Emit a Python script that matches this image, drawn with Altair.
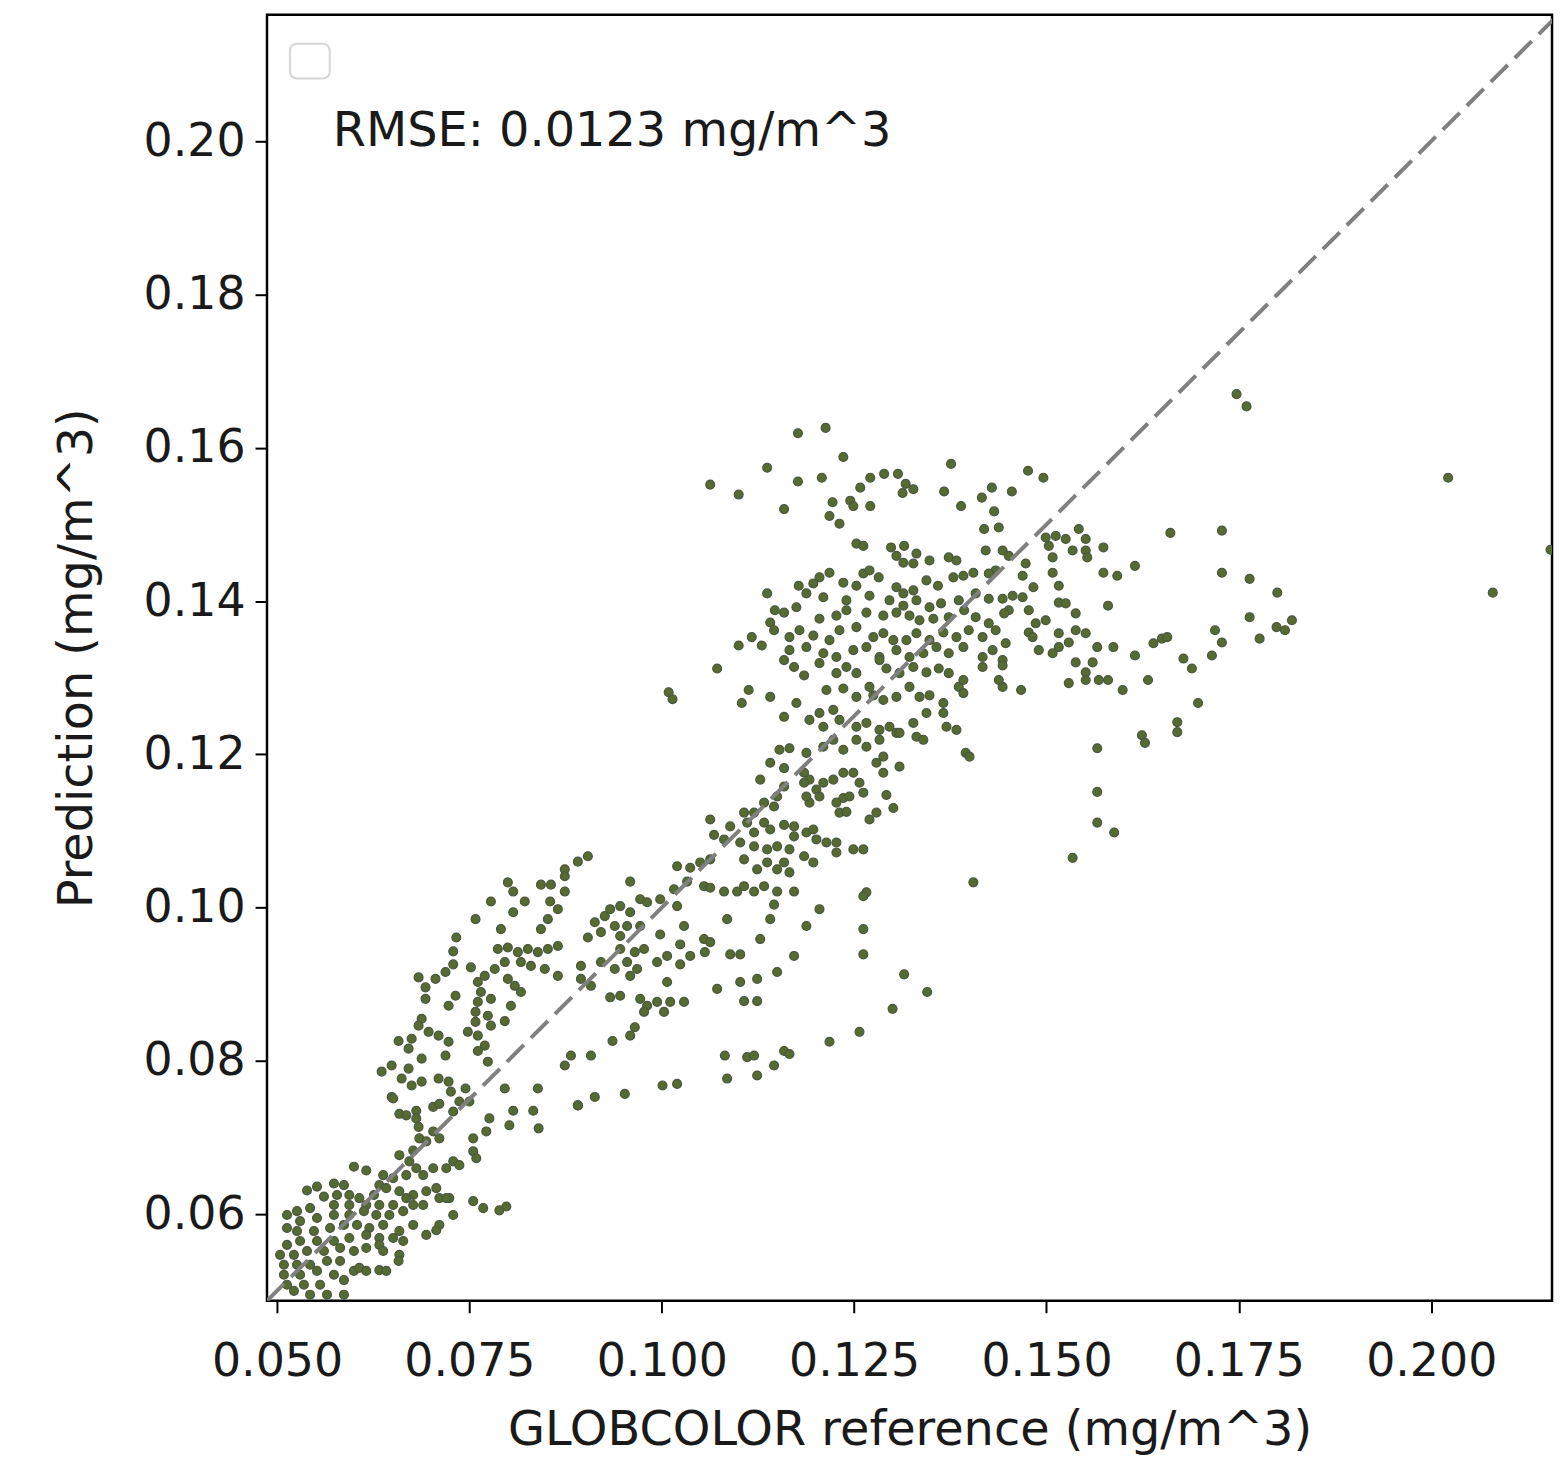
import altair as alt
import pandas as pd

# ---- values (mg/m^3): (GLOBCOLOR reference, prediction) ----
outliers = [(0.1747,0.1670),(0.1760,0.1654),(0.2022,0.1561),(0.2080,0.1411),(0.2155,0.1467)]

upper = [(0.1177,0.1619),(0.1213,0.1626),(0.1236,0.1588),(0.1137,0.1574),(0.1177,0.1556),(0.1208,0.1561),
         (0.1100,0.1539),(0.1063,0.1552),(0.1159,0.1520),(0.1271,0.1561),(0.1289,0.1566),(0.1307,0.1566),
         (0.1258,0.1548),(0.1317,0.1553),(0.1327,0.1546),(0.1313,0.1541),(0.1376,0.1579),(0.1367,0.1543),
         (0.1389,0.1524),(0.1416,0.1535),(0.1429,0.1548),(0.1455,0.1543),(0.1432,0.1517),(0.1419,0.1494),
         (0.1438,0.1496),(0.1222,0.1529),(0.1245,0.1531),(0.1249,0.1524),(0.1271,0.1524),(0.1218,0.1511),
         (0.1231,0.1501),(0.1476,0.1570),(0.1496,0.1561)]

core = [(0.1253,0.1475),(0.1262,0.1472),(0.1298,0.1470),(0.1315,0.1472),(0.1331,0.1462),(0.1305,0.1459),
        (0.1314,0.1450),(0.1327,0.1449),(0.1348,0.1453),(0.1373,0.1457),(0.1383,0.1453),(0.1421,0.1466),
        (0.1443,0.1466),(0.1451,0.1459),
        (0.1218,0.1437),(0.1205,0.1431),(0.1197,0.1423),(0.1178,0.1420),(0.1236,0.1424),(0.1262,0.1436),
        (0.1270,0.1440),(0.1282,0.1431),(0.1253,0.1420),(0.1305,0.1418),(0.1314,0.1410),(0.1327,0.1414),
        (0.1344,0.1427),(0.1359,0.1420),(0.1379,0.1431),(0.1392,0.1433),(0.1405,0.1437),(0.1434,0.1440),
        (0.1425,0.1436),
        (0.1137,0.1410),(0.1188,0.1410),(0.1210,0.1405),(0.1240,0.1401),(0.1270,0.1407),(0.1296,0.1401),
        (0.1314,0.1394),(0.1331,0.1401),(0.1348,0.1392),(0.1363,0.1397),(0.1386,0.1401),(0.1408,0.1410),
        (0.1425,0.1403),(0.1443,0.1403),(0.1451,0.1388),
        (0.1147,0.1388),(0.1159,0.1385),(0.1175,0.1392),(0.1205,0.1377),(0.1227,0.1381),(0.1240,0.1388),
        (0.1266,0.1385),(0.1288,0.1381),(0.1305,0.1385),(0.1322,0.1381),(0.1335,0.1375),(0.1353,0.1377),
        (0.1373,0.1379),(0.1393,0.1388),(0.1408,0.1379),(0.1425,0.1371),(0.1445,0.1384),
        (0.1141,0.1372),(0.1146,0.1362),(0.1166,0.1353),(0.1179,0.1362),(0.1197,0.1355),(0.1218,0.1349),
        (0.1231,0.1362),(0.1253,0.1366),(0.1275,0.1353),(0.1288,0.1358),(0.1301,0.1349),(0.1318,0.1349),
        (0.1331,0.1358),(0.1348,0.1349),(0.1366,0.1359),(0.1383,0.1353),(0.1399,0.1362),(0.1417,0.1353),
        (0.1434,0.1362),(0.1447,0.1345),
        (0.1130,0.1342),(0.1166,0.1336),(0.1188,0.1340),(0.1210,0.1332),(0.1227,0.1327),(0.1249,0.1336),
        (0.1266,0.1340),(0.1283,0.1327),(0.1305,0.1336),(0.1322,0.1327),(0.1340,0.1332),(0.1357,0.1340),
        (0.1373,0.1332),(0.1392,0.1340),(0.1417,0.1327),(0.1430,0.1336),(0.1443,0.1323),
        (0.1159,0.1323),(0.1172,0.1314),(0.1185,0.1303),(0.1205,0.1319),(0.1227,0.1306),(0.1240,0.1314),
        (0.1253,0.1306),(0.1283,0.1323),(0.1292,0.1312),(0.1309,0.1306),(0.1327,0.1314),(0.1344,0.1307),
        (0.1360,0.1312),(0.1373,0.1306),(0.1392,0.1297),(0.1417,0.1314),(0.1443,0.1316),
        (0.1141,0.1275),(0.1175,0.1267),(0.1214,0.1284),(0.1236,0.1286),(0.1253,0.1275),(0.1270,0.1288),
        (0.1275,0.1277),(0.1288,0.1271),(0.1305,0.1275),(0.1322,0.1288),(0.1335,0.1275),(0.1348,0.1277),
        (0.1366,0.1267),(0.1386,0.1288),(0.1392,0.1280),(0.1438,0.1297),(0.1443,0.1288),
        (0.1159,0.1249),(0.1192,0.1245),(0.1205,0.1254),(0.1223,0.1258),(0.1231,0.1245),(0.1210,0.1236),
        (0.1253,0.1236),(0.1266,0.1241),(0.1283,0.1232),(0.1296,0.1236),(0.1305,0.1228),(0.1327,0.1241),
        (0.1344,0.1254),(0.1366,0.1254),(0.1370,0.1236),(0.1383,0.1232),
        (0.1153,0.1206),(0.1166,0.1208),(0.1188,0.1202),(0.1210,0.1210),(0.1223,0.1219),(0.1236,0.1206),
        (0.1253,0.1219),(0.1266,0.1210),(0.1283,0.1219),(0.1309,0.1228),(0.1331,0.1223),(0.1340,0.1219),
        (0.1395,0.1202),(0.1456,0.1407)]

right = [(0.1499,0.1483),(0.1512,0.1485),(0.1525,0.1481),(0.1542,0.1494),(0.1551,0.1481),(0.1503,0.1472),
         (0.1534,0.1466),(0.1551,0.1466),(0.1553,0.1457),(0.1574,0.1470),(0.1508,0.1457),(0.1473,0.1449),
         (0.1469,0.1433),(0.1508,0.1437),(0.1574,0.1437),(0.1592,0.1433),(0.1615,0.1446),(0.1661,0.1489),
         (0.1728,0.1492),(0.1728,0.1437),(0.1764,0.1429),(0.1800,0.1411),(0.1516,0.1420),(0.1483,0.1418),
         (0.1469,0.1405),(0.1516,0.1398),(0.1525,0.1397),(0.1477,0.1388),(0.1580,0.1394),(0.1538,0.1384),
         (0.1486,0.1371),(0.1499,0.1375),(0.1477,0.1359),(0.1482,0.1353),(0.1516,0.1358),(0.1538,0.1362),
         (0.1551,0.1358),(0.1529,0.1346),(0.1516,0.1340),(0.1508,0.1332),(0.1490,0.1336),(0.1566,0.1340),
         (0.1587,0.1340),(0.1615,0.1329),(0.1639,0.1345),(0.1650,0.1351),(0.1657,0.1353),(0.1678,0.1325),
         (0.1689,0.1312),(0.1715,0.1329),(0.1719,0.1362),(0.1728,0.1346),(0.1764,0.1379),(0.1777,0.1351),
         (0.1799,0.1366),(0.1810,0.1362),(0.1819,0.1375),(0.1538,0.1320),(0.1560,0.1320),(0.1551,0.1307),
         (0.1551,0.1297),(0.1529,0.1293),(0.1568,0.1297),(0.1580,0.1297),(0.1599,0.1284),(0.1632,0.1297),
         (0.1467,0.1284),(0.1697,0.1267),(0.1670,0.1242),(0.1670,0.1229),(0.1624,0.1225),(0.1628,0.1215),
         (0.1566,0.1208),(0.1566,0.1151),(0.1566,0.1111),(0.1588,0.1098),(0.1534,0.1065)]

middle = [(0.1072,0.1312),(0.1113,0.1284),(0.1104,0.1267),(0.1100,0.1342),(0.1117,0.1353),(0.1009,0.1281),
          (0.1014,0.1272),(0.1128,0.1167),(0.1141,0.1189),(0.1159,0.1182),(0.1185,0.1176),(0.1192,0.1167),
          (0.1210,0.1163),(0.1223,0.1167),(0.1236,0.1176),(0.1249,0.1176),(0.1257,0.1163),(0.1262,0.1150),
          (0.1288,0.1197),(0.1288,0.1176),(0.1309,0.1184),(0.1279,0.1189),(0.1400,0.1197),(0.1292,0.1147),
          (0.1301,0.1130),(0.1279,0.1124),(0.1270,0.1115),(0.1236,0.1143),(0.1244,0.1145),(0.1227,0.1137),
          (0.1231,0.1124),(0.1240,0.1125),(0.1201,0.1154),(0.1205,0.1145),(0.1192,0.1137),(0.1185,0.1163),
          (0.1188,0.1145),(0.1159,0.1158),(0.1150,0.1145),(0.1146,0.1132),(0.1133,0.1137),(0.1120,0.1124),
          (0.1107,0.1124),(0.1266,0.1020),(0.1405,0.1033)]

lower_mid = [(0.1063,0.1115),(0.1068,0.1095),(0.1081,0.1089),(0.1089,0.1106),(0.1111,0.1111),(0.1120,0.1098),
             (0.1133,0.1111),(0.1141,0.1102),(0.1159,0.1108),(0.1172,0.1106),(0.1172,0.1093),(0.1188,0.1098),
             (0.1197,0.1102),(0.1201,0.1089),(0.1214,0.1085),(0.1227,0.1085),(0.1227,0.1072),(0.1249,0.1076),
             (0.1262,0.1076),(0.1102,0.1085),(0.1120,0.1080),(0.1137,0.1076),(0.1150,0.1080),(0.1166,0.1076),
             (0.1185,0.1067),(0.1197,0.1059),(0.1107,0.1063),(0.1124,0.1050),(0.1137,0.1059),(0.1150,0.1050),
             (0.1159,0.1059),(0.1166,0.1046),(0.1063,0.1063),(0.1050,0.1059),(0.1037,0.1052),(0.1020,0.1054),
             (0.1033,0.1034),(0.1055,0.1028),(0.1063,0.1026),(0.1081,0.1021),(0.1098,0.1021),(0.1107,0.1028),
             (0.1120,0.1021),(0.1133,0.1028),(0.1150,0.1021),(0.1172,0.1021),(0.1146,0.1004),(0.1141,0.0985),
             (0.1205,0.0998),(0.1188,0.0976),(0.1085,0.0985),(0.1128,0.0959),(0.1172,0.0937),(0.1150,0.0916),
             (0.1124,0.0907),(0.1102,0.0903),(0.1072,0.0894),(0.1107,0.0878),(0.1124,0.0878),(0.1262,0.0939),
             (0.1262,0.0972),(0.1262,0.1015),(0.1257,0.0838),(0.1218,0.0825),(0.1016,0.1024),(0.1020,0.1002),
             (0.0998,0.1011),(0.0998,0.0965),(0.1029,0.0976),(0.1024,0.0952),(0.1055,0.0959),(0.1063,0.0955),
             (0.1056,0.0942),(0.1037,0.0937),(0.1024,0.0926),(0.1089,0.0939),(0.1102,0.0939),(0.1007,0.0937),
             (0.0994,0.0929),(0.1003,0.0864),(0.0994,0.0877),(0.1011,0.0877),(0.1029,0.0877),(0.1007,0.0903),
             (0.1001,0.0768),(0.1020,0.0770),(0.1082,0.0807),(0.1111,0.0805),(0.1120,0.0807),(0.1159,0.0813),
             (0.1166,0.0809),(0.1146,0.0794),(0.1085,0.0777),(0.1124,0.0781),(0.1315,0.0913),(0.1345,0.0890),
             (0.1300,0.0868)]

left_arm = [(0.0904,0.1067),(0.0891,0.1060),(0.0874,0.1050),(0.0874,0.1041),(0.0874,0.1021),(0.0800,0.1033),
            (0.0807,0.1021),(0.0843,0.1030),(0.0856,0.1030),(0.0778,0.1008),(0.0807,0.0994),(0.0822,0.1008),
            (0.0855,0.1008),(0.0865,0.0998),(0.0852,0.0985),(0.0843,0.0972),(0.0758,0.0985),(0.0791,0.0972),
            (0.0733,0.0961),(0.0729,0.0943),(0.0729,0.0926),(0.0719,0.0916),(0.0706,0.0907),(0.0684,0.0909),
            (0.0693,0.0896),(0.0693,0.0881),(0.0752,0.0922),(0.0787,0.0946),(0.0800,0.0948),(0.0813,0.0942),
            (0.0826,0.0946),(0.0839,0.0942),(0.0852,0.0946),(0.0865,0.0950),(0.0817,0.0929),(0.0830,0.0924),
            (0.0848,0.0920),(0.0865,0.0911),(0.0796,0.0929),(0.0783,0.0920),(0.0770,0.0911),(0.0761,0.0903),
            (0.0765,0.0890),(0.0778,0.0881),(0.0761,0.0877),(0.0758,0.0864),(0.0774,0.0859),(0.0778,0.0846),
            (0.0796,0.0852),(0.0804,0.0872),(0.0800,0.0907),(0.0809,0.0898),(0.0817,0.0890),(0.0758,0.0851),
            (0.0748,0.0838),(0.0761,0.0833),(0.0770,0.0820),(0.0761,0.0813),(0.0774,0.0799),(0.0732,0.0885),
            (0.0723,0.0872),(0.0688,0.0855),(0.0684,0.0846),(0.0697,0.0838),(0.0710,0.0833),(0.0723,0.0825),
            (0.0719,0.0807),(0.0675,0.0829),(0.0658,0.0826),(0.0671,0.0816),(0.0688,0.0803),(0.0649,0.0794),
            (0.0636,0.0786),(0.0671,0.0790),(0.0662,0.0777),(0.0675,0.0768),(0.0688,0.0773),(0.0710,0.0777),
            (0.0723,0.0773),(0.0726,0.0760),(0.0745,0.0764),(0.0649,0.0753),(0.0796,0.0764),(0.0839,0.0764),
            (0.0874,0.0794),(0.0882,0.0807),(0.0908,0.0807),(0.0913,0.0753),(0.0952,0.0757),(0.0936,0.0826),
            (0.0959,0.0833),(0.0965,0.0844),(0.0959,0.1034),(0.0891,0.0742),
            (0.0913,0.0981),(0.0926,0.0989),(0.0933,0.0998),(0.0946,0.1002),(0.0959,0.0994),(0.0972,0.1011),
            (0.0981,0.1007),(0.0939,0.0976),(0.0955,0.0976),(0.0972,0.0976),(0.0904,0.0961),(0.0921,0.0968),
            (0.0946,0.0963),(0.0946,0.0946),(0.0965,0.0942),(0.0977,0.0946),(0.0955,0.0929),(0.0968,0.0920),
            (0.0959,0.0911),(0.0939,0.0920),(0.0921,0.0929),(0.0895,0.0924),(0.0895,0.0907),(0.0908,0.0898),
            (0.0933,0.0883),(0.0946,0.0885),(0.0972,0.0881),(0.0981,0.0872),(0.0977,0.0864)]

bottom = [(0.0651,0.0751),(0.0659,0.0731),(0.0668,0.0729),(0.0681,0.0735),(0.0681,0.0725),(0.0684,0.0714),
          (0.0703,0.0740),(0.0711,0.0744),(0.0729,0.0734),(0.0737,0.0747),(0.0750,0.0747),(0.0685,0.0699),
          (0.0703,0.0708),(0.0711,0.0699),(0.0694,0.0695),(0.0677,0.0683),(0.0659,0.0677),(0.0672,0.0669),
          (0.0729,0.0669),(0.0720,0.0660),(0.0703,0.0660),(0.0690,0.0651),(0.0681,0.0660),(0.0668,0.0651),
          (0.0651,0.0647),(0.0638,0.0651),(0.0633,0.0638),(0.0616,0.0657),(0.0600,0.0662),(0.0587,0.0638),
          (0.0574,0.0640),(0.0552,0.0636),(0.0539,0.0631),(0.0561,0.0623),(0.0578,0.0625),(0.0594,0.0625),
          (0.0607,0.0621),(0.0626,0.0625),(0.0642,0.0634),(0.0659,0.0630),(0.0677,0.0625),(0.0694,0.0630),
          (0.0707,0.0634),(0.0711,0.0621),(0.0724,0.0621),(0.0668,0.0621),(0.0651,0.0612),(0.0633,0.0612),
          (0.0616,0.0612),(0.0594,0.0612),(0.0574,0.0612),(0.0543,0.0608),(0.0526,0.0604),(0.0513,0.0599),
          (0.0530,0.0591),(0.0552,0.0595),(0.0574,0.0599),(0.0594,0.0599),(0.0613,0.0604),(0.0629,0.0599),
          (0.0646,0.0599),(0.0664,0.0604),(0.0677,0.0612),(0.0690,0.0612),(0.0513,0.0582),(0.0526,0.0578),
          (0.0548,0.0578),(0.0569,0.0582),(0.0587,0.0586),(0.0604,0.0586),(0.0620,0.0582),(0.0638,0.0586),
          (0.0659,0.0578),(0.0664,0.0565),(0.0651,0.0569),(0.0633,0.0569),(0.0616,0.0573),(0.0594,0.0569),
          (0.0574,0.0565),(0.0552,0.0565),(0.0530,0.0565),(0.0513,0.0560),(0.0504,0.0547),(0.0522,0.0547),
          (0.0539,0.0552),(0.0561,0.0552),(0.0582,0.0556),(0.0600,0.0552),(0.0616,0.0556),(0.0633,0.0560),
          (0.0509,0.0534),(0.0526,0.0534),(0.0543,0.0534),(0.0565,0.0539),(0.0582,0.0539),(0.0509,0.0521),
          (0.0530,0.0521),(0.0552,0.0526),(0.0574,0.0521),(0.0587,0.0514),(0.0513,0.0508),(0.0535,0.0508),
          (0.0556,0.0508),(0.0522,0.0500),(0.0543,0.0495),(0.0565,0.0495),(0.0587,0.0495),(0.0600,0.0526),
          (0.0607,0.0530),(0.0616,0.0526),(0.0633,0.0527),(0.0642,0.0526),(0.0659,0.0547),(0.0658,0.0539),
          (0.0638,0.0552),
          (0.0677,0.0586),(0.0694,0.0573),(0.0711,0.0586),(0.0707,0.0579),(0.0729,0.0599),(0.0720,0.0621),
          (0.0737,0.0664),(0.0755,0.0699),(0.0755,0.0682),(0.0759,0.0673),(0.0772,0.0708),(0.0776,0.0725),
          (0.0802,0.0716),(0.0807,0.0735),(0.0833,0.0735),(0.0840,0.0712),(0.0755,0.0617),(0.0768,0.0608),
          (0.0789,0.0605),(0.0798,0.0610),(0.0891,0.0742)]

x_ticks = [0.050, 0.075, 0.100, 0.125, 0.150, 0.175, 0.200]
y_ticks = [0.06, 0.08, 0.10, 0.12, 0.14, 0.16, 0.18, 0.20]
x_domain = [0.0487, 0.2157]
y_domain = [0.0487, 0.2165]
diag = [0.0487, 0.2165]
rmse_label = "RMSE: 0.0123 mg/m^3"
x_title = "GLOBCOLOR reference (mg/m^3)"
y_title = "Prediction (mg/m^3)"

pts = outliers + upper + core + right + middle + lower_mid + left_arm + bottom
df = pd.DataFrame(pts, columns=["ref", "pred"])
diag_df = pd.DataFrame({"ref": diag, "pred": diag})

FONT = "DejaVu Sans"
xs = alt.Scale(domain=x_domain, nice=False, zero=False)
ys = alt.Scale(domain=y_domain, nice=False, zero=False)

points = alt.Chart(df).mark_point(
    filled=True, shape="circle", size=80, fill="#556b2f", fillOpacity=1,
    stroke="#4b5842", strokeOpacity=1, strokeWidth=1.2, clip=True
).encode(
    x=alt.X("ref:Q", scale=xs, title=x_title,
            axis=alt.Axis(values=x_ticks, format=".3f", labelPadding=27, titlePadding=22)),
    y=alt.Y("pred:Q", scale=ys, title=y_title,
            axis=alt.Axis(values=y_ticks, format=".2f", labelPadding=10, titlePadding=42)),
)

line = alt.Chart(diag_df).mark_line(
    color="#808080", strokeWidth=4, strokeDash=[24, 10], clip=True
).encode(x=alt.X("ref:Q", scale=xs), y=alt.Y("pred:Q", scale=ys))

legend_box = alt.Chart(pd.DataFrame({"a": [0]})).mark_rect(
    cornerRadius=7, fill="white", stroke="#d6d6d6", strokeWidth=2
).encode(x=alt.value(23), x2=alt.value(63), y=alt.value(29), y2=alt.value(64))

label = alt.Chart(pd.DataFrame({"t": [rmse_label]})).mark_text(
    align="left", baseline="alphabetic", font=FONT, fontSize=48, color="#1a1a1a"
).encode(x=alt.value(66), y=alt.value(132), text="t:N")

chart = alt.layer(points, line, legend_box, label).properties(
    width=1290, height=1291,
    autosize=alt.AutoSizeParams(type="none"),
    padding={"left": 260, "top": 4, "right": 4, "bottom": 160},
).configure_view(
    stroke="black", strokeWidth=2.5
).configure_axis(
    grid=False, domain=False,
    labelFont=FONT, labelFontSize=46, labelColor="#1a1a1a",
    titleFont=FONT, titleFontSize=48, titleFontWeight="normal", titleColor="#1a1a1a",
    tickColor="black", tickWidth=2, tickSize=12,
)

chart.save("out.html", embed_options={"renderer": "svg", "actions": False})
